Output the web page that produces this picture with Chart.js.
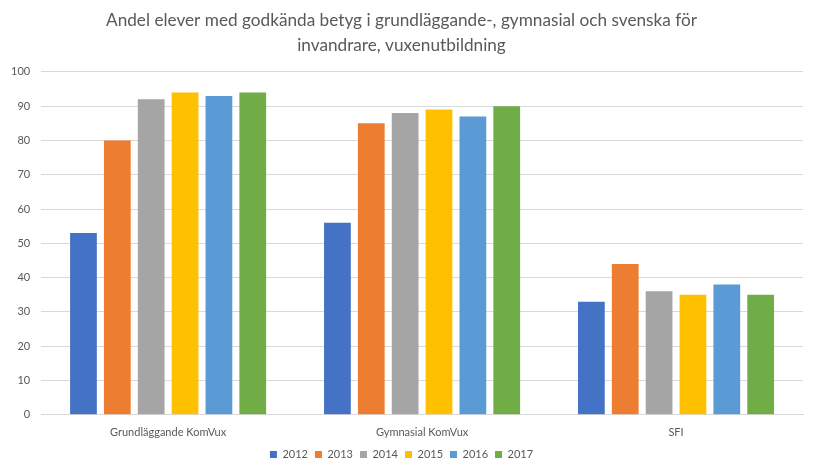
<!DOCTYPE html>
<html>
<head>
<meta charset="utf-8">
<script src="https://cdn.jsdelivr.net/npm/chart.js@4"></script>
<style>
html,body{margin:0;padding:0;background:#fff;}
#wrap{width:815px;height:475px;position:relative;}
</style>
</head>
<body>
<div id="wrap"><canvas id="c"></canvas></div>
<script>
const categories = ["Grundläggande KomVux", "Gymnasial KomVux", "SFI"];
const years = ["2012", "2013", "2014", "2015", "2016", "2017"];
const v2012 = [53, 56, 33];
const v2013 = [80, 85, 44];
const v2014 = [92, 88, 36];
const v2015 = [94, 89, 35];
const v2016 = [93, 87, 38];
const v2017 = [94, 90, 35];
const yTicks = [0, 10, 20, 30, 40, 50, 60, 70, 80, 90, 100];
const titleLines = ["Andel elever med godkända betyg i grundläggande-, gymnasial och svenska för", "invandrare, vuxenutbildning"];

const seriesValues = [v2012, v2013, v2014, v2015, v2016, v2017];
const colors = ["#4472C4", "#ED7D31", "#A5A5A5", "#FFC000", "#5B9BD5", "#70AD47"];
const FONT = "Lato, 'Open Sans', sans-serif";

new Chart(document.getElementById('c'), {
  type: 'bar',
  data: {
    labels: categories,
    datasets: years.map((y, i) => ({
      label: y,
      data: seriesValues[i],
      backgroundColor: colors[i],
      borderWidth: 0
    }))
  },
  options: {
    responsive: true,
    maintainAspectRatio: false,
    animation: false,
    layout: { padding: { left: 0, right: 12, top: 0, bottom: 5 } },
    datasets: { bar: { categoryPercentage: 0.8, barPercentage: 0.79 } },
    plugins: {
      title: {
        display: true,
        text: titleLines,
        color: '#595959',
        font: { family: FONT, size: 17.2, weight: 'normal', lineHeight: 1.45 },
        padding: { top: 8, bottom: 14 }
      },
      legend: {
        position: 'bottom',
        labels: {
          boxWidth: 7,
          boxHeight: 7,
          color: '#595959',
          font: { family: FONT, size: 11 },
          padding: 7
        }
      },
      tooltip: { enabled: false }
    },
    scales: {
      x: {
        grid: { display: false },
        border: { color: '#D9D9D9' },
        ticks: { color: '#595959', font: { family: FONT, size: 11 }, padding: 3 }
      },
      y: {
        min: 0,
        max: 100,
        afterBuildTicks: (s) => { s.ticks = yTicks.map(v => ({ value: v })); },
        grid: { color: '#D9D9D9', drawTicks: false },
        border: { display: false },
        ticks: { color: '#595959', font: { family: FONT, size: 11 }, padding: 11 }
      }
    }
  }
});
</script>
</body>
</html>
